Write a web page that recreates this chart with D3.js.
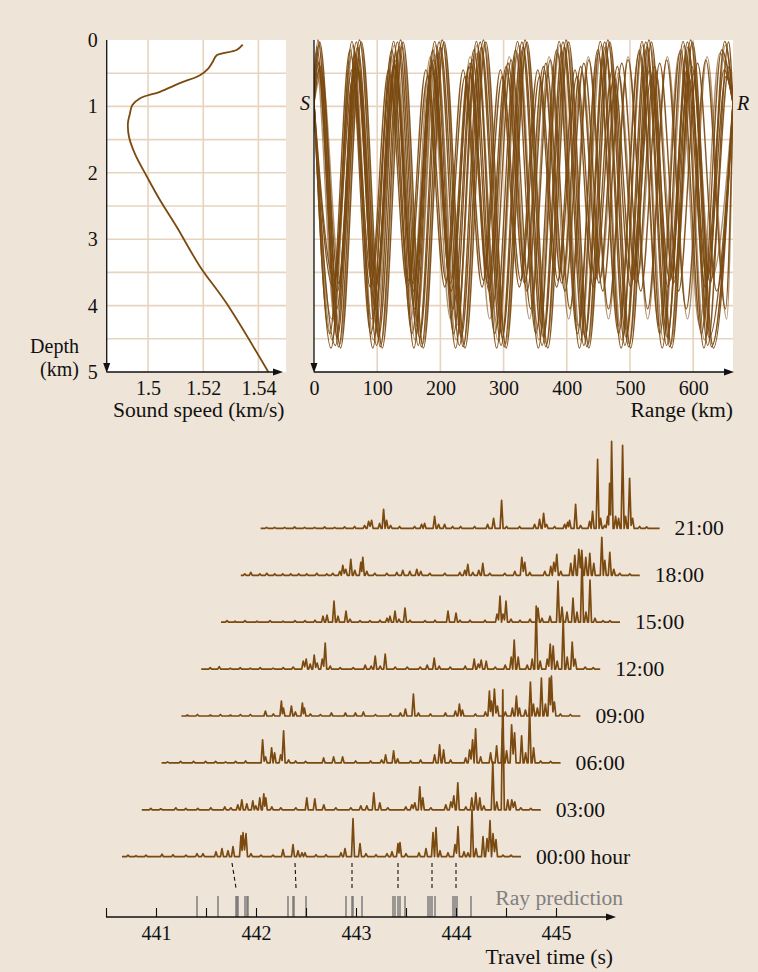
<!DOCTYPE html>
<html>
<head>
<meta charset="utf-8">
<script src="https://cdn.jsdelivr.net/npm/d3@7"></script>
<style>
body { margin: 0; background: #eee4d8; }
svg text { font-family: "Liberation Serif", "DejaVu Serif", serif; fill: #111; }
</style>
</head>
<body>
<div id="chart"></div>
<script>
"use strict";

// sound speed profile (depth km, speed km/s)
const profileDepth = [0.07, 0.15, 0.23, 0.33, 0.43, 0.53, 0.65, 0.78, 0.88, 0.98, 1.13, 1.25, 1.46, 1.71, 2.06, 2.41, 2.81, 3.41, 3.97, 5.0];
const profileSpeed = [1.5343, 1.5321, 1.5249, 1.5234, 1.5218, 1.5188, 1.5115, 1.5043, 1.4970, 1.4943, 1.4933, 1.4927, 1.4931, 1.4952, 1.4996, 1.5043, 1.5103, 1.5188, 1.5285, 1.5436];
const speedTicks = [1.5, 1.52, 1.54];
const depthTicks = [0, 1, 2, 3, 4, 5];
const rangeTicks = [0, 100, 200, 300, 400, 500, 600];

// eigenrays: source/receiver depth, turning depths, turning ranges (km)
const sourceDepth = 0.95;
const receiverRange = 663;
const rayFirst = ["bot", "bot", "bot", "top", "top", "top", "top", "top", "bot", "bot", "bot", "top", "bot", "top", "top", "top"];
const rayUpper = [0.02, 0.08, 0.15, 0.0, 0.05, 0.1, 0.4, 0.5, 0.45, 0.55, 0.25, 0.3, 0.03, 0.2, 0.35, 0.03];
const rayLower = [4.64, 4.52, 4.42, 4.62, 4.58, 4.48, 3.66, 3.58, 3.72, 3.62, 4.2, 4.05, 4.6, 4.3, 3.78, 4.64];
const rayTurns = [
  [27, 60, 93, 126, 158, 191, 224, 257, 289, 322, 355, 388, 420, 453, 486, 519, 551, 584, 617, 650],
  [29, 62, 94, 127, 160, 193, 225, 258, 291, 324, 356, 389, 422, 455, 487, 520, 553, 586, 618, 651],
  [25, 57, 90, 123, 155, 188, 221, 253, 286, 319, 351, 384, 417, 449, 482, 515, 547, 580, 613, 645],
  [6, 39, 72, 105, 137, 170, 203, 236, 268, 301, 334, 367, 399, 432, 465, 498, 530, 563, 596, 629],
  [8, 41, 74, 106, 139, 172, 205, 237, 270, 303, 336, 368, 401, 434, 467, 499, 532, 565, 598, 630],
  [4, 37, 69, 102, 135, 167, 200, 233, 265, 298, 331, 363, 396, 429, 461, 494, 527, 559, 592, 625],
  [10, 39, 69, 98, 128, 157, 186, 216, 245, 275, 304, 333, 363, 392, 422, 451, 480, 510, 539, 569, 598, 627, 657],
  [12, 41, 71, 100, 130, 159, 188, 218, 247, 277, 306, 335, 365, 394, 424, 453, 482, 512, 541, 571, 600, 629],
  [30, 60, 89, 118, 148, 177, 207, 236, 266, 295, 325, 354, 384, 413, 442, 472, 501, 531, 560, 590, 619, 649],
  [32, 62, 91, 121, 150, 180, 209, 239, 268, 298, 327, 357, 386, 416, 445, 475, 504, 534, 563, 593, 622, 652],
  [28, 59, 91, 122, 153, 184, 216, 247, 278, 309, 341, 372, 403, 434, 466, 497, 528, 559, 591, 622, 653],
  [5, 36, 66, 97, 128, 159, 189, 220, 251, 282, 312, 343, 374, 405, 435, 466, 497, 528, 558, 589, 620, 651],
  [34, 67, 99, 132, 165, 198, 230, 263, 296, 329, 361, 394, 427, 460, 492, 525, 558, 591, 623, 656],
  [2, 34, 66, 98, 130, 162, 194, 226, 258, 290, 322, 354, 386, 418, 450, 482, 514, 546, 578, 610, 642],
  [7, 37, 67, 97, 127, 157, 187, 217, 247, 277, 307, 337, 367, 397, 427, 457, 487, 517, 547, 577, 607, 637],
  [9, 42, 75, 108, 141, 173, 206, 239, 272, 304, 337, 370, 403, 435, 468, 501, 534, 566, 599, 632]
];

// received arrivals: [travel time s, amplitude]
const traceStart = 440.66, traceEnd = 444.65;
const hourLabels = ["00:00 hour", "03:00", "06:00", "09:00", "12:00", "15:00", "18:00", "21:00"];
const trace00 = [[440.72,1.5],[440.80,1],[440.90,1.5],[441.06,2.5],[441.17,2],[441.30,1.5],[441.41,3],[441.47,3],[441.60,5],[441.66,8],[441.72,6],[441.77,10],[441.85,21],[441.87,24],[441.90,23],[441.95,3],[442.05,1.5],[442.17,1.5],[442.27,7],[442.37,12],[442.42,6],[442.46,4],[442.49,4],[442.60,2],[442.70,2],[442.85,4],[442.89,8],[442.97,38],[443.04,13],[443.10,3],[443.20,2],[443.31,3],[443.36,5],[443.42,13],[443.44,14],[443.50,3],[443.63,4],[443.70,8],[443.77,24],[443.80,29],[443.84,6],[443.92,4],[443.99,12],[444.02,30],[444.08,5],[444.12,4],[444.16,47],[444.20,8],[444.27,20],[444.31,18],[444.34,36],[444.37,23],[444.40,17],[444.47,1.5],[444.55,1.5]];
const trace03 = [[440.75,1.5],[440.85,1],[441.00,2],[441.10,1.5],[441.22,1.5],[441.35,2],[441.49,3],[441.55,2],[441.62,5],[441.66,10],[441.71,6],[441.77,9],[441.80,4],[441.84,12],[441.88,16],[441.90,12],[441.96,3],[442.05,2],[442.20,2],[442.31,12],[442.39,11],[442.48,5],[442.60,2],[442.75,2],[442.85,4],[442.91,4],[442.98,17],[443.04,7],[443.12,2],[443.30,3],[443.36,5],[443.39,7],[443.44,23],[443.47,12],[443.55,2],[443.70,5],[443.75,8],[443.78,14],[443.82,27],[443.90,3],[443.96,12],[444.00,17],[444.04,12],[444.08,4],[444.17,48],[444.21,8],[444.27,120],[444.32,10],[444.36,10],[444.39,8],[444.45,2],[444.55,1.5]];
const trace06 = [[440.72,1],[440.85,1.5],[440.98,1.5],[441.10,1.5],[441.20,1.5],[441.30,1],[441.40,1.5],[441.50,2],[441.67,23],[441.70,6],[441.76,15],[441.79,10],[441.85,8],[441.88,32],[441.93,3],[442.00,2],[442.10,1.5],[442.28,5],[442.38,6],[442.47,6],[442.60,2],[442.75,2],[442.86,3],[442.90,8],[442.98,12],[443.02,4],[443.15,2],[443.25,3],[443.39,8],[443.44,18],[443.48,13],[443.55,3],[443.70,5],[443.74,13],[443.77,23],[443.80,34],[443.85,6],[443.95,10],[444.01,17],[444.07,35],[444.11,12],[444.16,38],[444.19,30],[444.26,27],[444.30,10],[444.34,55],[444.38,15],[444.45,2],[444.55,1.5]];
const trace09 = [[440.72,1],[440.82,1.5],[440.95,1],[441.05,1.5],[441.15,1],[441.25,1.5],[441.35,1.5],[441.50,5],[441.58,2],[441.66,15],[441.68,8],[441.76,10],[441.80,4],[441.87,13],[441.89,8],[441.95,2],[442.05,1.5],[442.16,3],[442.30,3],[442.40,3],[442.48,4],[442.60,1.5],[442.75,2],[442.85,3],[442.90,7],[442.98,22],[443.03,3],[443.15,2],[443.30,3],[443.40,5],[443.44,12],[443.47,6],[443.60,2],[443.70,4],[443.74,25],[443.76,15],[443.79,27],[443.82,10],[443.90,4],[443.97,8],[444.01,20],[444.04,8],[444.10,6],[444.15,34],[444.18,12],[444.22,8],[444.26,38],[444.30,12],[444.34,38],[444.36,40],[444.39,14],[444.45,2],[444.55,1.5]];
const trace12 = [[440.75,1.5],[440.84,2.5],[440.95,1],[441.05,1.5],[441.15,1],[441.25,1.5],[441.38,1],[441.48,1.5],[441.58,2],[441.68,8],[441.71,10],[441.75,5],[441.79,14],[441.82,6],[441.87,10],[441.90,26],[441.95,3],[442.05,1.5],[442.18,1.5],[442.30,4],[442.36,3],[442.40,13],[442.45,3],[442.50,15],[442.60,2],[442.72,2],[442.85,2],[442.92,4],[442.99,11],[443.04,3],[443.15,2],[443.30,3],[443.39,10],[443.43,5],[443.46,9],[443.51,8],[443.60,2],[443.70,4],[443.76,12],[443.79,29],[443.83,12],[443.92,4],[443.97,10],[444.01,63],[444.05,8],[444.12,10],[444.15,25],[444.18,23],[444.22,8],[444.28,50],[444.32,12],[444.37,27],[444.40,10],[444.50,2],[444.58,1.5]];
const trace15 = [[440.72,1.5],[440.80,1],[440.90,1.5],[441.02,1],[441.15,1.5],[441.28,1],[441.40,1.5],[441.50,1.5],[441.60,2],[441.68,6],[441.72,7],[441.79,21],[441.83,6],[441.91,11],[441.95,3],[442.05,1.5],[442.15,1.5],[442.25,2],[442.32,4],[442.35,6],[442.40,11],[442.44,3],[442.50,14],[442.55,2],[442.70,1.5],[442.80,2],[442.93,11],[443.01,9],[443.05,2],[443.15,2],[443.30,2],[443.42,8],[443.45,26],[443.48,8],[443.51,21],[443.56,3],[443.65,2],[443.75,3],[443.83,14],[443.87,4],[443.95,6],[444.03,41],[444.07,15],[444.12,10],[444.18,24],[444.22,10],[444.27,65],[444.31,10],[444.35,42],[444.40,4],[444.48,1.5],[444.55,1.5]];
const trace18 = [[440.70,1.5],[440.76,3],[440.85,1.5],[440.92,2],[441.00,1.5],[441.08,1.5],[441.16,1.5],[441.24,1.5],[441.32,1.5],[441.42,2],[441.52,1.5],[441.58,2],[441.65,4],[441.68,10],[441.71,6],[441.76,16],[441.80,5],[441.86,13],[441.88,18],[441.92,4],[442.00,2],[442.12,2],[442.22,3],[442.28,5],[442.35,4],[442.42,6],[442.46,4],[442.55,2],[442.70,2],[442.85,3],[442.90,5],[442.93,11],[442.98,3],[443.04,5],[443.08,12],[443.15,2],[443.30,2],[443.40,4],[443.47,18],[443.50,13],[443.55,3],[443.70,4],[443.76,9],[443.79,13],[443.82,21],[443.86,4],[443.96,12],[444.00,20],[444.04,26],[444.07,25],[444.11,18],[444.15,22],[444.19,12],[444.27,38],[444.30,15],[444.35,23],[444.39,6],[444.45,2],[444.55,1.5]];
const trace21 = [[440.72,1],[440.80,1],[440.90,1],[441.00,1.5],[441.10,1],[441.20,1],[441.30,1.5],[441.40,1],[441.50,1.5],[441.60,2],[441.70,3],[441.74,7],[441.77,8],[441.85,5],[441.89,19],[441.92,8],[441.96,3],[442.05,2],[442.20,2],[442.27,4],[442.30,5],[442.40,12],[442.44,4],[442.50,4],[442.58,2],[442.66,2],[442.80,2],[442.93,4],[442.99,10],[443.07,28],[443.12,2],[443.25,2],[443.40,4],[443.45,9],[443.49,15],[443.52,4],[443.60,2],[443.70,4],[443.73,6],[443.75,8],[443.81,24],[443.86,3],[443.95,7],[443.98,17],[444.03,69],[444.06,10],[444.10,3],[444.13,12],[444.15,45],[444.17,87],[444.21,12],[444.24,10],[444.28,83],[444.31,12],[444.35,50],[444.38,10],[444.45,2],[444.52,1.5]];
const traces = [trace00, trace03, trace06, trace09, trace12, trace15, trace18, trace21];

// ray model predictions (s) and matched arrivals
const rayPrediction = [441.41, 441.62, 441.80, 441.81, 441.82, 441.89, 441.91, 441.92, 442.32, 442.37, 442.38, 442.50, 442.90, 442.96, 442.97, 443.06, 443.37, 443.39, 443.42, 443.44, 443.49, 443.72, 443.74, 443.76, 443.79, 443.97, 443.99, 444.01, 444.15];
const matchFrom = [441.76, 442.39, 442.96, 443.42, 443.76, 444.00];
const matchTo = [441.80, 442.40, 442.96, 443.42, 443.76, 444.00];
const timeTicks = [441, 442, 443, 444, 445];
const timeMinorTicks = [440.5, 441, 441.5, 442, 442.5, 443, 443.5, 444, 444.5, 445];

const WIDTH = 758, HEIGHT = 972;
const BROWN = "#7b4a10", GRID = "#e7d4be";
const SERIF = "'Liberation Serif', 'DejaVu Serif', serif";

let svg = d3.select("#chart").append("svg")
  .attr("width", WIDTH)
  .attr("height", HEIGHT);
svg.append("rect").attr("width", WIDTH).attr("height", HEIGHT).attr("fill", "#eee4d8");

let yDepth = d3.scaleLinear().domain([0, 5]).range([40, 372]);
let xSpeed = d3.scaleLinear().domain([1.485, 1.55]).range([106.7, 286]);
let xRange = d3.scaleLinear().domain([0, receiverRange]).range([314, 733]);
let xTime = d3.scaleLinear().domain([441, 445]).range([156, 556]);

let arrow = function(g, x, y, dir) {
  let p = dir === "right"
    ? [[x, y], [x - 10, y - 3.5], [x - 10, y + 3.5]]
    : [[x, y], [x - 3.5, y - 10], [x + 3.5, y - 10]];
  g.append("path").attr("d", "M" + p.join("L") + "Z").attr("fill", "#111");
};

let styleAxis = function(g, size) {
  g.attr("font-family", SERIF);
  g.select(".domain").remove();
  g.selectAll("text").attr("font-size", size).attr("fill", "#111")
    .attr("font-family", SERIF).style("font-family", SERIF);
};

//////////////////////////
// Sound speed profile  //
//////////////////////////

let left = svg.append("g");
left.append("rect")
  .attr("x", xSpeed.range()[0]).attr("y", yDepth(0))
  .attr("width", xSpeed.range()[1] - xSpeed.range()[0])
  .attr("height", yDepth(5) - yDepth(0))
  .attr("fill", "#fff");

let halfDepths = d3.range(0.5, 5, 0.5);
left.selectAll(".hgrid").data(halfDepths).join("line")
  .attr("x1", xSpeed.range()[0]).attr("x2", xSpeed.range()[1])
  .attr("y1", d => yDepth(d)).attr("y2", d => yDepth(d))
  .attr("stroke", GRID).attr("stroke-width", 1.6);
left.selectAll(".vgrid").data(speedTicks).join("line")
  .attr("x1", d => xSpeed(d)).attr("x2", d => xSpeed(d))
  .attr("y1", yDepth(0)).attr("y2", yDepth(5))
  .attr("stroke", GRID).attr("stroke-width", 1.6);

let profile = profileDepth.map((z, i) => [profileSpeed[i], z]);
left.append("path")
  .datum(profile)
  .attr("fill", "none")
  .attr("stroke", BROWN)
  .attr("stroke-width", 1.8)
  .attr("d", d3.line().x(d => xSpeed(d[0])).y(d => yDepth(d[1])).curve(d3.curveCatmullRom));

left.append("line").attr("x1", 106.7).attr("x2", 106.7).attr("y1", 40).attr("y2", 368)
  .attr("stroke", "#111").attr("stroke-width", 1.3);
left.append("line").attr("x1", 106.7).attr("x2", 278).attr("y1", 372).attr("y2", 372)
  .attr("stroke", "#111").attr("stroke-width", 1.3);
arrow(left, 106.7, 373, "down");
arrow(left, 283, 372, "right");

left.append("g").attr("transform", "translate(106.7,0)")
  .call(d3.axisLeft(yDepth).tickValues(depthTicks).tickSize(0).tickPadding(9).tickFormat(d3.format("d")))
  .call(g => styleAxis(g, 20));
left.append("g").attr("transform", "translate(0,372)")
  .call(d3.axisBottom(xSpeed).tickValues(speedTicks).tickSize(0).tickPadding(9).tickFormat(d3.format("")))
  .call(g => styleAxis(g, 20));

left.append("text").attr("x", 79).attr("y", 353).attr("text-anchor", "end").attr("font-size", 20).text("Depth");
left.append("text").attr("x", 79).attr("y", 376).attr("text-anchor", "end").attr("font-size", 20).text("(km)");
left.append("text").attr("x", 113).attr("y", 417).attr("font-size", 21.6).text("Sound speed (km/s)");

//////////////////
// Ray diagram  //
//////////////////

let right = svg.append("g");
right.append("rect")
  .attr("x", xRange.range()[0]).attr("y", yDepth(0))
  .attr("width", xRange.range()[1] - xRange.range()[0])
  .attr("height", yDepth(5) - yDepth(0))
  .attr("fill", "#fff");
right.selectAll(".hgrid").data(halfDepths).join("line")
  .attr("x1", xRange.range()[0]).attr("x2", xRange.range()[1])
  .attr("y1", d => yDepth(d)).attr("y2", d => yDepth(d))
  .attr("stroke", GRID).attr("stroke-width", 1.6);
right.selectAll(".vgrid").data(rangeTicks.slice(1)).join("line")
  .attr("x1", d => xRange(d)).attr("x2", d => xRange(d))
  .attr("y1", yDepth(0)).attr("y2", yDepth(5))
  .attr("stroke", GRID).attr("stroke-width", 1.6);

svg.append("clipPath").attr("id", "rayclip").append("rect")
  .attr("x", xRange.range()[0]).attr("y", yDepth(0) - 1)
  .attr("width", xRange.range()[1] - xRange.range()[0])
  .attr("height", yDepth(5) - yDepth(0) + 1);

let rayLine = d3.line()
  .x(d => xRange(d[0]))
  .y(d => yDepth(d[1]))
  .curve(d3.curveMonotoneX);

let rays = right.append("g").attr("clip-path", "url(#rayclip)");
rayTurns.forEach((turns, i) => {
  let pts = [[0, sourceDepth]];
  turns.forEach((r, j) => {
    let isTop = (j % 2 === 0) === (rayFirst[i] === "top");
    pts.push([r, isTop ? rayUpper[i] : rayLower[i]]);
  });
  pts.push([receiverRange, sourceDepth]);
  rays.append("path")
    .datum(pts)
    .attr("fill", "none")
    .attr("stroke", BROWN)
    .attr("stroke-width", 1.4)
    .attr("stroke-opacity", i % 3 === 1 ? 0.6 : 0.92)
    .attr("d", rayLine);
});

right.append("line").attr("x1", 314).attr("x2", 314).attr("y1", 40).attr("y2", 368)
  .attr("stroke", "#111").attr("stroke-width", 1.3);
right.append("line").attr("x1", 314).attr("x2", 726).attr("y1", 372).attr("y2", 372)
  .attr("stroke", "#111").attr("stroke-width", 1.3);
arrow(right, 314, 373, "down");
arrow(right, 734, 372, "right");

right.append("g").attr("transform", "translate(0,372)")
  .call(d3.axisBottom(xRange).tickValues(rangeTicks).tickSize(0).tickPadding(9))
  .call(g => styleAxis(g, 20));
right.append("text").attr("x", 733).attr("y", 417).attr("text-anchor", "end").attr("font-size", 21.6).text("Range (km)");
right.append("text").attr("x", 305).attr("y", 110).attr("text-anchor", "middle")
  .attr("font-size", 20).attr("font-style", "italic").text("S");
right.append("text").attr("x", 743).attr("y", 110).attr("text-anchor", "middle")
  .attr("font-size", 20).attr("font-style", "italic").text("R");

///////////////////////
// Arrival waterfall //
///////////////////////

const traceDx = 19.8, traceDy = 46.9, baseY = 856.7, spikeW = 0.015;
let amp = d3.scaleLinear().domain([0, 100]).range([0, -100]);

let tracePoints = function(peaks) {
  let pts = [[traceStart, 0]];
  let prev = null;
  peaks.forEach(p => {
    let t = p[0], h = p[1];
    if (prev === null || t - prev[0] > 2 * spikeW) {
      if (prev) pts.push([prev[0] + spikeW, 0]);
      pts.push([t - spikeW, 0]);
    } else {
      pts.push([(prev[0] + t) / 2, Math.min(prev[1], h) * 0.3]);
    }
    pts.push([t, h]);
    prev = p;
  });
  pts.push([prev[0] + spikeW, 0], [traceEnd, 0]);
  return pts;
};

let traceLine = d3.line().x(d => xTime(d[0])).y(d => amp(d[1]));

let water = svg.append("g");
traces.forEach((peaks, k) => {
  let g = water.append("g")
    .attr("transform", "translate(" + (k * traceDx) + "," + (baseY - k * traceDy) + ")");
  g.append("path")
    .datum(tracePoints(peaks))
    .attr("fill", "none")
    .attr("stroke", BROWN)
    .attr("stroke-width", 1.7)
    .attr("stroke-linejoin", "round")
    .attr("d", traceLine);
  g.append("text")
    .attr("x", xTime(traceEnd) + 15)
    .attr("y", 7)
    .attr("font-size", 21.6)
    .text(hourLabels[k]);
});

// matches between arrivals and ray predictions
water.selectAll(".match").data(matchFrom).join("line")
  .attr("x1", d => xTime(d)).attr("y1", 863)
  .attr("x2", (d, i) => xTime(matchTo[i])).attr("y2", 888)
  .attr("stroke", "#111").attr("stroke-width", 1.1)
  .attr("stroke-dasharray", "4,3");

water.selectAll(".pred").data(rayPrediction).join("line")
  .attr("x1", d => xTime(d)).attr("x2", d => xTime(d))
  .attr("y1", 896).attr("y2", 917)
  .attr("stroke", "#6f6f6f").attr("stroke-width", 1.3);

water.append("text").attr("x", 623).attr("y", 905).attr("text-anchor", "end")
  .attr("font-size", 21.6).style("fill", "#808080").text("Ray prediction");

// travel time axis
water.append("line").attr("x1", xTime(440.5)).attr("x2", 608).attr("y1", 917).attr("y2", 917)
  .attr("stroke", "#111").attr("stroke-width", 1.3);
arrow(water, 616, 917, "right");
water.append("g").attr("transform", "translate(0,917)")
  .call(d3.axisTop(xTime).tickValues(timeMinorTicks).tickSize(9).tickFormat(""))
  .call(g => { g.select(".domain").remove(); g.selectAll("line").attr("stroke", "#111").attr("stroke-width", 1.1); });
water.append("g").attr("transform", "translate(0,917)")
  .call(d3.axisBottom(xTime).tickValues(timeTicks).tickSize(0).tickPadding(9).tickFormat(d3.format("d")))
  .call(g => styleAxis(g, 20));
water.append("text").attr("x", 613).attr("y", 964).attr("text-anchor", "end")
  .attr("font-size", 21.6).text("Travel time (s)");
</script>
</body>
</html>
